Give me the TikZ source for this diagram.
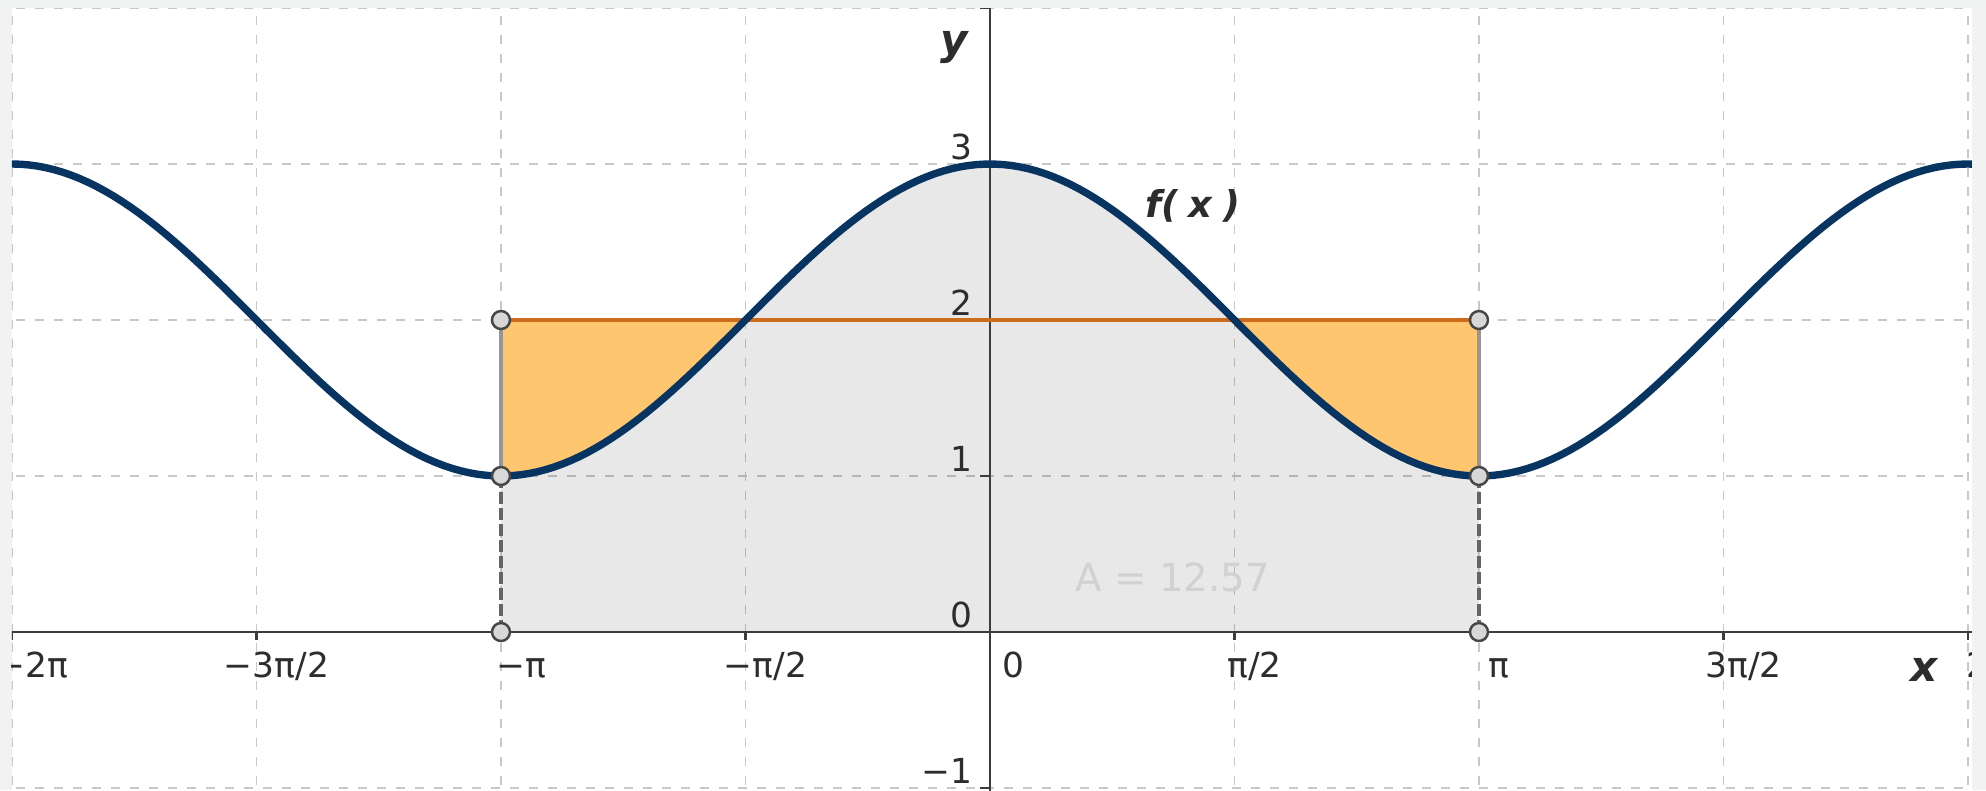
\documentclass[tikz,border=0pt]{standalone}
\usepackage{fontspec}
\setmainfont{DejaVu Sans}
\definecolor{bgc}{RGB}{241,243,243}
\definecolor{gridc}{RGB}{200,200,200}
\definecolor{axisc}{RGB}{60,60,60}
\definecolor{curvec}{RGB}{8,52,98}
\definecolor{orangec}{RGB}{204,108,28}
\definecolor{orangefillc}{RGB}{255,198,112}
\definecolor{labc}{RGB}{45,45,45}
\definecolor{ptfillc}{RGB}{215,215,215}
\definecolor{ptdrawc}{RGB}{70,70,70}
\definecolor{segc}{RGB}{150,150,150}
\definecolor{dsegc}{RGB}{100,100,100}
\tikzset{
  gridline/.style={draw=gridc, line width=0.55pt, dash pattern=on 0.09cm off 0.1cm},
  axisline/.style={draw=axisc, line width=0.8pt},
  curveline/.style={draw=curvec, line width=2.1pt},
  orangeline/.style={draw=orangec, line width=1.3pt},
  orangearea/.style={fill=orangefillc},
  grayarea/.style={fill=black, fill opacity=0.09},
  solidseg/.style={draw=segc, line width=0.9pt},
  dashseg/.style={draw=dsegc, line width=1.4pt, dash pattern=on 0.12cm off 0.04cm},
  ptnode/.style={circle, draw=ptdrawc, fill=ptfillc, line width=0.7pt, minimum size=0.18cm, inner sep=0pt},
  xlab/.style={font=\fontsize{9.8}{11}\selectfont, text=labc, anchor=base, inner sep=0pt},
  ylab/.style={font=\fontsize{9.8}{11}\selectfont, text=labc, anchor=base east, inner sep=0pt},
  axlab/.style={font=\fontsize{12}{14}\selectfont\bfseries\itshape, text=labc, inner sep=0pt},
  flab/.style={font=\fontsize{10.5}{12}\selectfont\bfseries\itshape, text=labc, inner sep=0pt},
  arealab/.style={font=\fontsize{11}{13}\selectfont, text=black!18, inner sep=0pt},
}
\begin{document}
\begin{tikzpicture}[x=1.5565cm,y=1.56cm]
\useasboundingbox (-6.3603,-1.0128) rectangle (6.3991,4.0513);
\fill[bgc] (-6.3603,-1.0128) rectangle (6.3991,4.0513);
\fill[white] (-2*pi,-1.0128) rectangle (6.309,4);
\begin{scope}
\clip (-2*pi,-1.0128) rectangle (6.309,4);
% grid
\foreach \k in {-4,...,4} \draw[gridline] ({\k*pi/2},-1.1) -- ({\k*pi/2},4.1);
\foreach \j in {-1,...,4} \draw[gridline] (-6.5,\j) -- (6.5,\j);
% area under f
\fill[grayarea] plot[domain=-pi:pi, samples=120] (\x,{2+cos(\x r)}) -- (pi,0) -- (-pi,0) -- cycle;
% orange regions
\fill[orangearea] (-pi,2) -- plot[domain=-pi:-pi/2, samples=60] (\x,{2+cos(\x r)}) -- cycle;
\fill[orangearea] (pi,2) -- plot[domain=pi/2:pi, samples=60] (\x,{2+cos(\x r)}) -- cycle;
% axes
\draw[axisline] (-6.5,0) -- (6.5,0);
\draw[axisline] (0,-1.1) -- (0,4.1);
\foreach \k in {-4,...,4} \draw[axisline] ({\k*pi/2},0) -- ({\k*pi/2},-0.05);
\foreach \j in {-1,...,4} \draw[axisline] (0,\j) -- (-0.065,\j);
% tick labels
\node[xlab] (lxm4) at ({-2*pi+0.1285},-0.2885) {−2π};
\node[xlab] (lxm3) at ({-3*pi/2+0.1285},-0.2885) {−3π/2};
\node[xlab] (lxm2) at ({-pi+0.1285},-0.2885) {−π};
\node[xlab] (lxm1) at ({-pi/2+0.1285},-0.2885) {−π/2};
\node[xlab] (lx0) at (0.1485,-0.2885) {0};
\node[xlab] (lx1) at ({pi/2+0.1285},-0.2885) {π/2};
\node[xlab] (lx2) at ({pi+0.1285},-0.2885) {π};
\node[xlab] (lx3) at ({3*pi/2+0.1285},-0.2885) {3π/2};
\node[xlab] (lx4) at ({2*pi+0.1285},-0.2885) {2π};
\node[ylab] (lym1) at (-0.109,-0.968) {−1};
\node[ylab] (ly0) at (-0.109,0.032) {0};
\node[ylab] (ly1) at (-0.109,1.032) {1};
\node[ylab] (ly2) at (-0.109,2.032) {2};
\node[ylab] (ly3) at (-0.109,3.032) {3};
% coordinates of the points
\coordinate (p0l) at (-pi,0);
\coordinate (p1l) at (-pi,1);
\coordinate (p2l) at (-pi,2);
\coordinate (p0r) at (pi,0);
\coordinate (p1r) at (pi,1);
\coordinate (p2r) at (pi,2);
% segments
\draw[orangeline] (p2l) -- (p2r);
\draw[solidseg] (p1l) -- (p2l);
\draw[solidseg] (p1r) -- (p2r);
\draw[dashseg] (p0l) -- (p1l);
\draw[dashseg] (p0r) -- (p1r);
% curve
\draw[curveline] plot[domain=-6.5:6.5, samples=240] (\x,{2+cos(\x r)});
% points
\node[ptnode] (P0l) at (p0l) {};
\node[ptnode] (P1l) at (p1l) {};
\node[ptnode] (P2l) at (p2l) {};
\node[ptnode] (P0r) at (p0r) {};
\node[ptnode] (P1r) at (p1r) {};
\node[ptnode] (P2r) at (p2r) {};
% labels
\node[axlab] (xlabel) at (6.0,-0.245) {x};
\node[axlab] (ylabel) at (-0.231,3.744) {y};
\node[flab] (flabel) at (1.302,2.731) {f(\kern3pt x\kern3pt)};
\node[arealab] (alabel) at (1.176,0.35) {A = 12.57};
\end{scope}
\end{tikzpicture}
\end{document}
